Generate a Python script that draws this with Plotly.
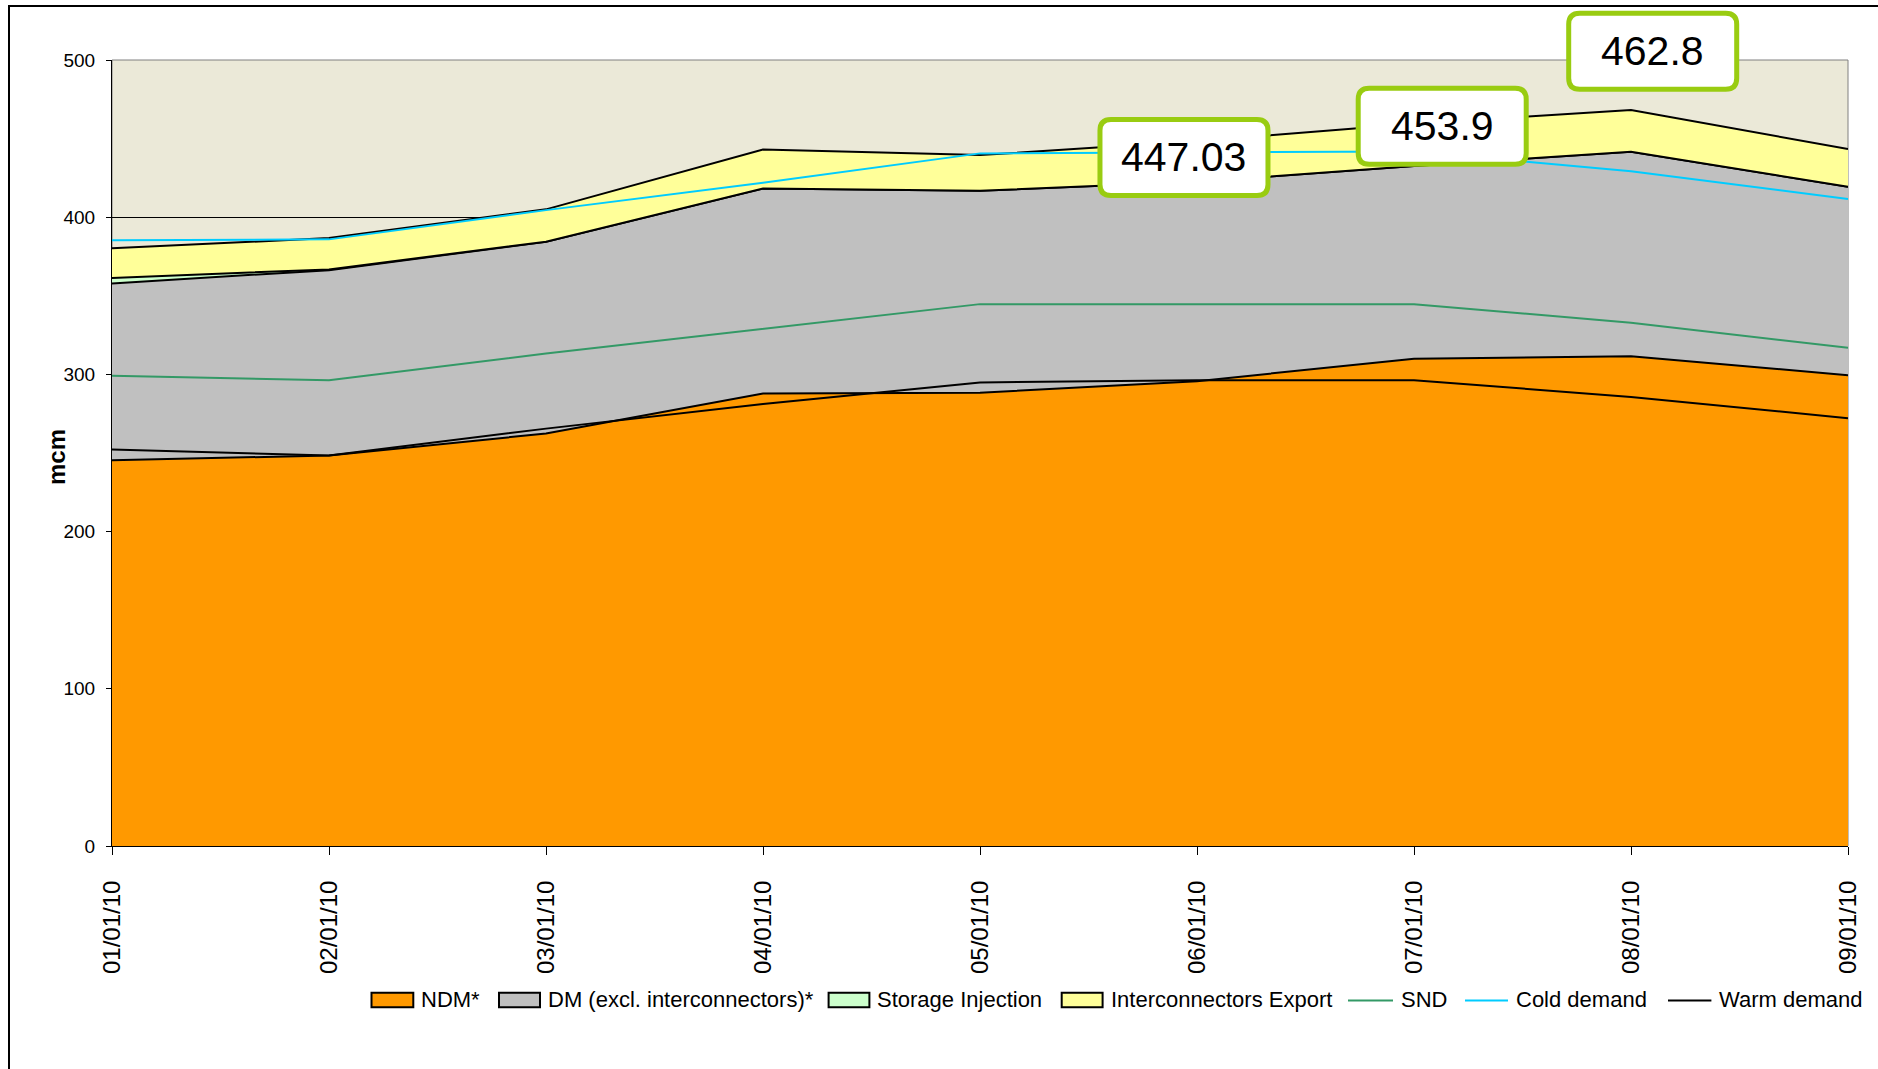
import plotly.graph_objects as go

# days on the x axis
dates = ["01/01/10", "02/01/10", "03/01/10", "04/01/10", "05/01/10",
         "06/01/10", "07/01/10", "08/01/10", "09/01/10"]

# stacked supply/demand components (mcm)
ndm = [245.4, 248.4, 262.4, 287.9, 288.3, 295.7, 310.0, 311.6, 299.5]
dm = [112.5, 117.9, 122.0, 130.4, 128.5, 126.8, 122.5, 130.0, 119.9]
storage_inj = [3.5, 0.5, 0, 0, 0, 0, 0, 0, 0]
ic_export = [18.8, 19.9, 20.6, 24.8, 22.7, 25.9, 26.9, 26.6, 24.0]

# demand lines
snd = [299.1, 296.3, 313.3, 329.2, 344.7, 344.7, 344.7, 332.8, 316.9]
cold = [385.4, 385.9, 404.5, 421.9, 440.6, 441.0, 441.8, 429.3, 411.5]
warm = [252.2, 248.4, 265.5, 281.1, 294.9, 296.3, 296.3, 285.7, 272.1]

# call-out boxes (day index, mcm level)
callout_text = ["447.03", "453.9", "462.8"]
callout_x = [4.94, 6.13, 7.10]
callout_y = [438.0, 457.8, 505.5]

# plot area in pixels
L, W, T, H = 112, 1736, 60, 786
B = T + H


def px_x(p):
    return (p - L) / W


def px_y(p):
    return (B - p) / H


fig = go.Figure()

areas = [("NDM*", ndm, "#FF9900"),
         ("DM (excl. interconnectors)*", dm, "#C0C0C0"),
         ("Storage Injection", storage_inj, "#CCFFCC"),
         ("Interconnectors Export", ic_export, "#FFFF99")]
for name, vals, col in areas:
    fig.add_trace(go.Scatter(x=dates, y=vals, name=name, mode="lines",
                             stackgroup="one", fillcolor=col,
                             line=dict(color="black", width=2)))

lines = [("SND", snd, "#339966"),
         ("Cold demand", cold, "#00CCFF"),
         ("Warm demand", warm, "black")]
for name, vals, col in lines:
    fig.add_trace(go.Scatter(x=dates, y=vals, name=name, mode="lines",
                             line=dict(color=col, width=2)))

# rounded call-out boxes
hw, hh, r = 84, 38, 11
box_path = (f"M{-hw + r},{-hh} L{hw - r},{-hh} Q{hw},{-hh} {hw},{-hh + r} "
            f"L{hw},{hh - r} Q{hw},{hh} {hw - r},{hh} L{-hw + r},{hh} "
            f"Q{-hw},{hh} {-hw},{hh - r} L{-hw},{-hh + r} Q{-hw},{-hh} {-hw + r},{-hh} Z")
for txt, xx, yy in zip(callout_text, callout_x, callout_y):
    fig.add_shape(type="path", xref="paper", yref="paper",
                  xsizemode="pixel", ysizemode="pixel",
                  xanchor=xx / 8, yanchor=yy / 500, path=box_path,
                  fillcolor="white", line=dict(color="#99CC11", width=5))
    fig.add_annotation(x=xx / 8, y=yy / 500, xref="paper", yref="paper",
                       text=txt, showarrow=False, xanchor="center", yanchor="middle",
                       font=dict(family="Liberation Sans, Arial", size=41, color="black"))

# hand-drawn legend (wide boxed swatches like the original)
legend_items = [("NDM*", "box", "#FF9900", 371.5, 413.3),
                ("DM (excl. interconnectors)*", "box", "#C0C0C0", 499, 540),
                ("Storage Injection", "box", "#CCFFCC", 828.6, 869.4),
                ("Interconnectors Export", "box", "#FFFF99", 1061.7, 1102.6),
                ("SND", "line", "#339966", 1348, 1393),
                ("Cold demand", "line", "#00CCFF", 1465, 1508),
                ("Warm demand", "line", "black", 1668, 1711.4)]
for name, kind, col, x0, x1 in legend_items:
    if kind == "box":
        fig.add_shape(type="rect", xref="paper", yref="paper",
                      x0=px_x(x0), x1=px_x(x1), y0=px_y(1007.3), y1=px_y(992.7),
                      fillcolor=col, line=dict(color="black", width=2))
    else:
        fig.add_shape(type="line", xref="paper", yref="paper",
                      x0=px_x(x0), x1=px_x(x1), y0=px_y(1000.5), y1=px_y(1000.5),
                      line=dict(color=col, width=2))
    fig.add_annotation(x=px_x(x1 + 6), y=px_y(1000), xref="paper", yref="paper",
                       text=name, showarrow=False, xanchor="left", yanchor="middle",
                       font=dict(family="Liberation Sans, Arial", size=22, color="black"))

# y-axis title
fig.add_annotation(x=px_x(57), y=px_y(457), xref="paper", yref="paper",
                   text="<b>mcm</b>", textangle=-90, showarrow=False,
                   xanchor="center", yanchor="middle",
                   font=dict(family="Liberation Sans, Arial", size=24, color="black"))

# outer chart border
fig.add_shape(type="rect", xref="paper", yref="paper",
              x0=px_x(9), x1=px_x(1950), y0=px_y(1200), y1=px_y(6),
              line=dict(color="black", width=2))
# plot area border (behind the areas)
fig.add_shape(type="rect", xref="paper", yref="paper", layer="below",
              x0=0, x1=1, y0=0, y1=1, line=dict(color="#808080", width=1))

fig.update_layout(
    width=1878, height=1069,
    margin=dict(l=L, r=1878 - L - W, t=T, b=1069 - B),
    paper_bgcolor="white",
    plot_bgcolor="#EBE9D8",
    font=dict(family="Liberation Sans, Arial", color="black"),
    showlegend=False,
)

fig.update_xaxes(type="category", range=[0, 8], showgrid=False,
                 showline=True, linecolor="black", linewidth=1,
                 ticks="outside", ticklen=8, tickcolor="black",
                 tickangle=-90, tickfont=dict(size=24), ticklabelstandoff=16)
fig.update_yaxes(range=[0, 500], dtick=100, showgrid=True,
                 gridcolor="black", gridwidth=1, zeroline=False,
                 showline=True, linecolor="black", linewidth=1,
                 ticks="outside", ticklen=5, tickcolor="black",
                 tickfont=dict(size=19), ticklabelstandoff=7)

fig.write_html("out.html", config={"displayModeBar": False},
               post_script="document.body.style.margin='0';")
